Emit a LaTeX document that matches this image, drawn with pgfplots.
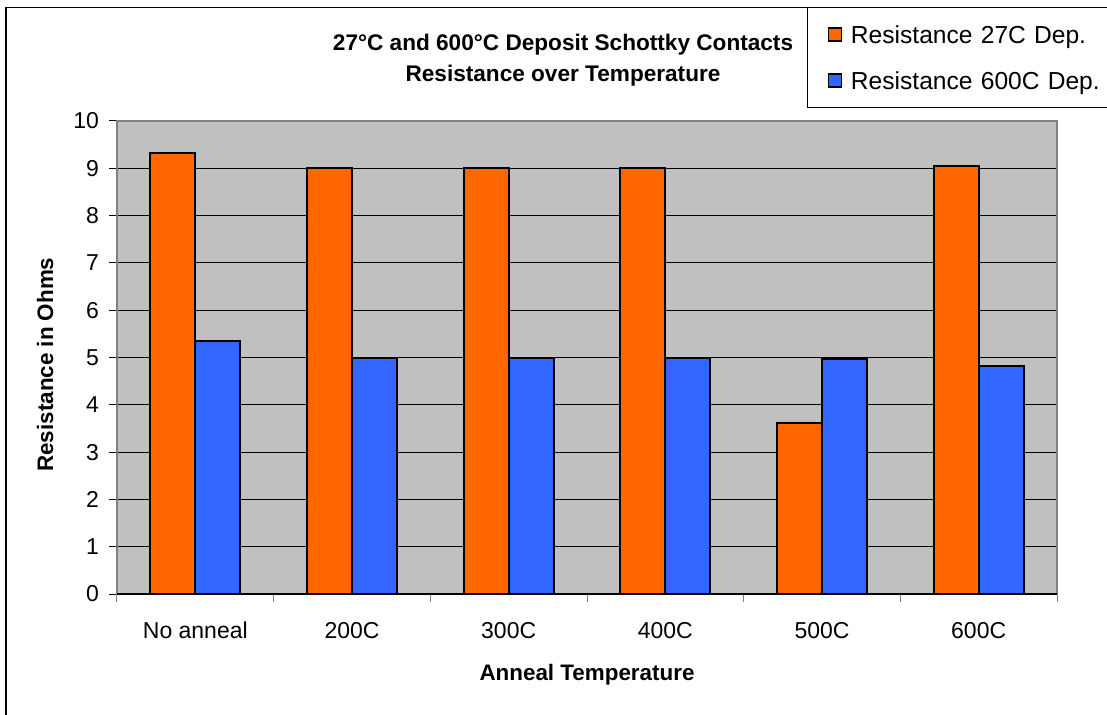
\documentclass[border=0pt]{standalone}
\usepackage{fontspec}
\setmainfont{Liberation Sans}
\usepackage{pgfplots}
\pgfplotsset{compat=1.18}
\definecolor{barorange}{HTML}{FF6600}
\definecolor{barblue}{HTML}{3366FF}
\definecolor{plotgray}{HTML}{C0C0C0}
\definecolor{framegray}{HTML}{808080}
\begin{document}
\begin{tikzpicture}
\useasboundingbox (0pt,0pt) rectangle (553.5pt,-357.5pt);
\begin{scope}[x=0.5pt,y=-0.5pt]
\draw[black,line width=0.6pt] (6,730) -- (6,7.3) -- (1120,7.3);
\end{scope}
\begin{axis}[
  at={(58.5pt,-297pt)}, anchor=south west,
  scale only axis, width=470pt, height=236.5pt,
  ymin=0, ymax=10, ytick={0,1,...,10},
  xmin=-0.5, xmax=5.5,
  xtick={-0.5,0.5,...,5.5},
  x tick label as interval,
  xticklabels={No anneal,200C,300C,400C,500C,600C},
  xtick pos=bottom, ytick pos=left,
  ybar=0pt, bar width=22.5pt,
  axis background/.style={fill=plotgray},
  axis line style={framegray, line width=0.6pt},
  ymajorgrids, grid style={black, line width=0.5pt},
  tick align=outside, major tick length=4pt,
  tick style={black, line width=0.5pt},
  x tick style={framegray},
  /pgf/number format/assume math mode=true,
  tick label style={font=\fontsize{11.5}{13}\selectfont},
  yticklabel style={xshift=-1.5pt},
  xticklabel style={yshift=-6.5pt},
  xlabel={Anneal Temperature},
  xlabel style={font=\fontsize{11.2}{13}\bfseries, at={(axis description cs:0.5,-0.170)}, anchor=center},
  ylabel={Resistance in Ohms},
  ylabel style={font=\fontsize{11.2}{13}\bfseries, at={(axis description cs:-0.0766,0.485)}, anchor=center, rotate=0},
  title={27°C and 600°C Deposit Schottky Contacts\\Resistance over Temperature},
  title style={font=\fontsize{11.3}{15.5}\bfseries\selectfont, align=center, at={(axis description cs:0.4745,1.103)}, anchor=center},
  legend style={at={(axis description cs:0.734,1.2415)}, anchor=north west,
    draw=black, line width=0.6pt, fill=white,
    inner xsep=10pt, inner ysep=7pt, row sep=10pt,
    font=\fontsize{12.3}{14}\selectfont,
    nodes={inner sep=2pt, text height=9pt, text depth=0pt, text width=160pt},
    /tikz/every odd column/.append style={column sep=2.5pt}},
  legend cell align=left,
]
\addplot[fill=barorange, draw=black, line width=1pt,
  legend image code/.code={\draw[fill=barorange,draw=black,line width=0.7pt] (0pt,-3.25pt) rectangle (6.5pt,3.25pt);}]
  coordinates {(0,9.33) (1,9.0) (2,9.0) (3,9.0) (4,3.62) (5,9.05)};
\addlegendentry{Resistance 27C Dep.}
\addplot[fill=barblue, draw=black, line width=1pt,
  legend image code/.code={\draw[fill=barblue,draw=black,line width=0.7pt] (0pt,-3.25pt) rectangle (6.5pt,3.25pt);}]
  coordinates {(0,5.35) (1,5.0) (2,5.0) (3,5.0) (4,4.96) (5,4.83)};
\addlegendentry{Resistance 600C Dep.}
\draw[black, line width=0.9pt] (rel axis cs:0,0) -- (rel axis cs:1,0);
\end{axis}
\end{tikzpicture}
\end{document}
